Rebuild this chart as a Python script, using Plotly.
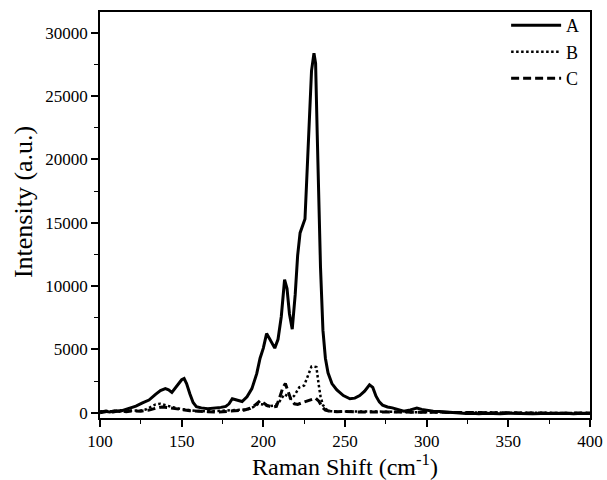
import plotly.graph_objects as go

# ---- data ----
shift_a = [100, 103, 106, 109, 112, 115, 118, 122, 126, 130, 134, 137, 140, 142, 144, 147, 150, 151.5,
           153, 155, 157, 159, 162, 166, 170, 174, 177, 179, 181, 184, 187, 190, 193, 196, 198, 200,
           202, 204, 207, 209, 211, 213, 214.5, 216, 217.7, 219.5, 221, 222.5, 224.5, 225.5, 226.5,
           228, 229.5, 231, 232, 233, 234, 235, 236.5, 238, 239.6, 242, 245, 249, 253, 256, 259, 262,
           265, 267, 269, 271, 273, 276, 279, 282, 286, 290, 294, 297, 300, 304, 308, 312, 316, 320,
           324, 328, 332, 336, 340, 345, 350, 355, 360, 365, 370, 375, 380, 385, 390, 395, 400]
intensity_a = [50, 120, 60, 150, 100, 220, 380, 520, 780, 1000, 1450, 1750, 1900, 1800, 1600, 2150, 2600, 2700,
               2300, 1500, 800, 480, 380, 320, 360, 420, 500, 700, 1100, 1000, 880, 1250, 1900, 3100, 4300, 5100,
               6250, 5800, 5100, 5800, 7600, 10500, 9800, 7800, 6600, 9300, 12400, 14200, 15000, 15300, 18200,
               23000, 27000, 28400, 27600, 22000, 16500, 11500, 6500, 4300, 3150, 2300, 1800, 1350, 1100, 1150, 1350, 1700,
               2200, 2000, 1300, 850, 600, 450, 380, 250, 110, 220, 370, 260, 170, 110, 90, 60, 30, -20,
               -70, -40, -80, -50, -60, -90, -40, -70, -50, -80, -60, -40, -70, -50, -80, -40, -60]

shift_b = [100, 104, 108, 112, 116, 120, 124, 128, 131, 134, 137, 140, 143, 147, 152, 158, 165, 172, 180,
           186, 190, 194, 197, 200, 203, 206, 209, 211, 213, 215, 217, 219, 222, 225, 227, 229.5, 231,
           232.5, 233.8, 235, 236.5, 238.5, 241, 246, 255, 265, 275, 290, 310, 340, 370, 400]
intensity_b = [100, 150, 80, 200, 120, 180, 150, 250, 450, 650, 700, 600, 450, 350, 250, 150, 100, 150, 150,
               200, 250, 450, 700, 650, 500, 550, 700, 1100, 1450, 1300, 1100, 1350, 2000, 2150, 2850, 3650, 3650,
               3600, 2300, 1300, 600, 250, 120, 80, 100, 60, 80, 40, 20, 0, -20, -30]

shift_c = [100, 104, 108, 112, 116, 120, 125, 130, 134, 138, 142, 146, 150, 155, 160, 166, 172, 178, 184,
           188, 192, 195, 198, 200, 202, 205, 208, 210, 212, 213.5, 215, 217, 219, 221, 224, 227, 230,
           232, 234, 236, 238, 241, 245, 250, 258, 266, 275, 285, 300, 320, 350, 380, 400]
intensity_c = [0, 100, 50, 150, 80, 150, 120, 200, 350, 450, 400, 300, 250, 150, 100, 80, 50, 100, 150,
               200, 350, 600, 950, 800, 600, 450, 500, 1200, 2000, 2300, 1700, 1000, 700, 650, 800, 950, 1100,
               1150, 900, 450, 200, 100, 80, 100, 50, 80, 60, 50, 30, 0, -20, -40, -30]

series_names = ["A", "B", "C"]
x_ticks = [100, 150, 200, 250, 300, 350, 400]
y_ticks = [0, 5000, 10000, 15000, 20000, 25000, 30000]
x_tick_labels = [str(v) for v in x_ticks]
y_tick_labels = [str(v) for v in y_ticks]

FONT = "Liberation Serif"

fig = go.Figure()
fig.add_trace(go.Scatter(x=shift_a, y=intensity_a, mode="lines", name=series_names[0],
                         line=dict(color="black", width=3)))
fig.add_trace(go.Scatter(x=shift_b, y=intensity_b, mode="lines", name=series_names[1],
                         line=dict(color="black", width=2.5, dash="2.5px,2.5px")))
fig.add_trace(go.Scatter(x=shift_c, y=intensity_c, mode="lines", name=series_names[2],
                         line=dict(color="black", width=3, dash="8px,4px")))

axis_common = dict(
    showgrid=False, zeroline=False, showline=True, linecolor="black", linewidth=1.5,
    mirror=True, ticks="outside", ticklen=7, tickwidth=1.5, tickcolor="black", automargin=False,
)

fig.update_layout(
    width=607, height=480,
    margin=dict(l=100, r=17, t=12, b=62, autoexpand=False),
    paper_bgcolor="white", plot_bgcolor="white",
    font=dict(family=FONT, color="black"),
    showlegend=True,
    legend=dict(x=0.988, y=1.012, xanchor="right", yanchor="top",
                bgcolor="rgba(0,0,0,0)", borderwidth=0,
                font=dict(family=FONT, size=18, color="black"),
                itemwidth=50, tracegroupgap=0),
    xaxis=dict(range=[100, 400], tickvals=x_ticks, ticktext=x_tick_labels,
               tickfont=dict(family=FONT, size=17, color="black"),
               minor=dict(ticks="outside", ticklen=4, dtick=25, tick0=100, tickwidth=1.2, tickcolor="black"),
               **axis_common),
    yaxis=dict(range=[-420, 31650], tickvals=y_ticks, ticktext=y_tick_labels,
               tickfont=dict(family=FONT, size=17, color="black"),
               minor=dict(ticks="outside", ticklen=4, dtick=2500, tick0=0, tickwidth=1.2, tickcolor="black"),
               **axis_common),
    annotations=[
        dict(text="Raman Shift (cm<sup>-1</sup>)", xref="paper", yref="paper", x=0.5, y=-0.074,
             xanchor="center", yanchor="top", showarrow=False,
             font=dict(family=FONT, size=24, color="black")),
        dict(text="Intensity (a.u.)", xref="paper", yref="paper", x=-0.157, y=0.532,
             xanchor="center", yanchor="middle", textangle=-90, showarrow=False,
             font=dict(family=FONT, size=26, color="black")),
    ],
)

fig.write_html("out.html", config={"displayModeBar": False},
               post_script="document.body.style.margin='0';document.body.style.overflow='hidden';")
